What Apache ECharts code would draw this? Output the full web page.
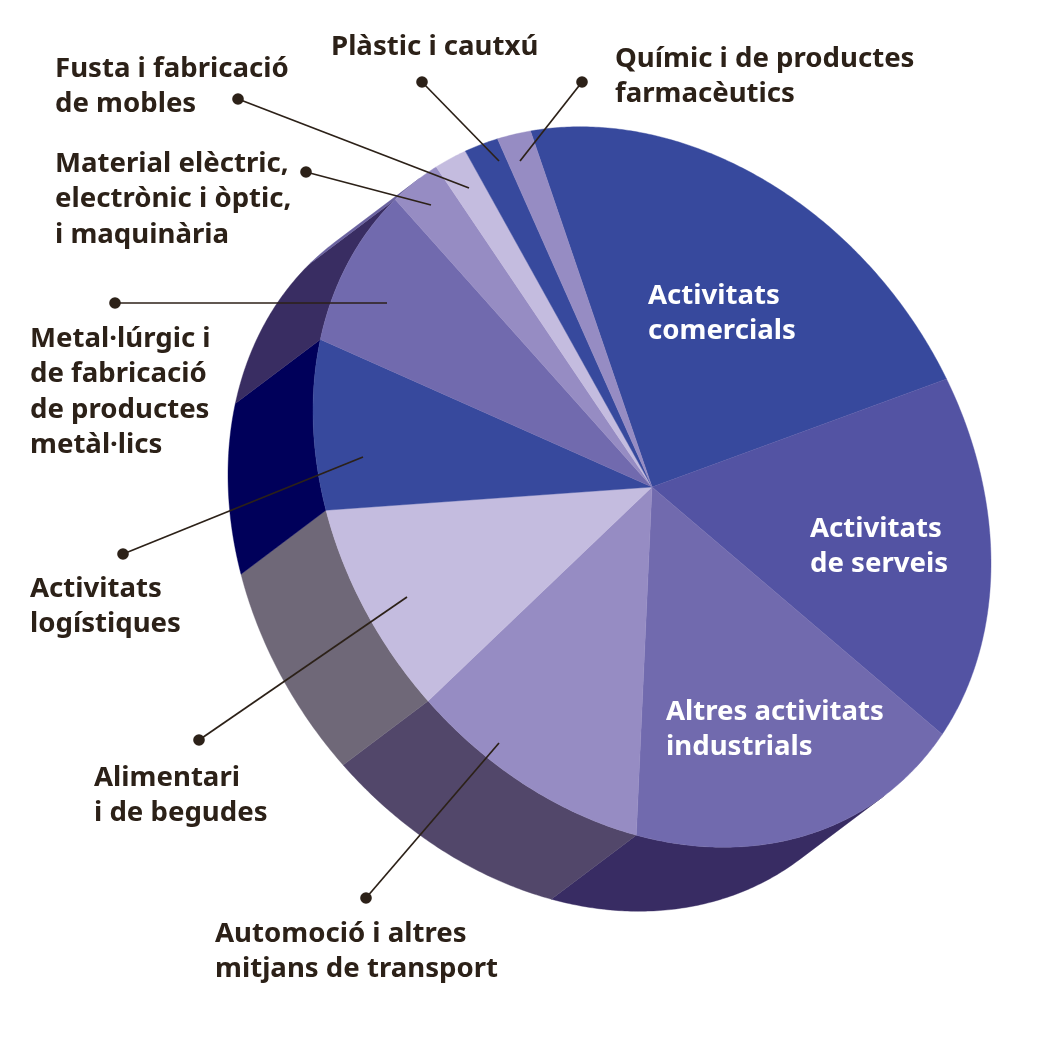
<!DOCTYPE html>
<html>
<head>
<meta charset="utf-8">
<style>
  html, body { margin: 0; padding: 0; background: #fff; }
  #chart { width: 1040px; height: 1040px; }
</style>
<script src="https://cdn.jsdelivr.net/npm/echarts@6/dist/echarts.min.js"></script>
</head>
<body>
<div id="chart"></div>
<script>
// clockwise, starting with the big top slice
const categories = ["Activitats comercials", "Activitats de serveis", "Altres activitats industrials",
  "Automoció i altres mitjans de transport", "Alimentari i de begudes", "Activitats logístiques",
  "Metal·lúrgic i de fabricació de productes metàl·lics", "Material elèctric, electrònic i òptic, i maquinària",
  "Fusta i fabricació de mobles", "Plàstic i cautxú", "Químic i de productes farmacèutics"];
const shares = [22.6, 16.9, 17.1, 10.75, 9.1, 7.75, 8.0, 2.7, 1.7, 1.75, 1.7];
const topColors = ["#37499d", "#5353a3", "#716aae", "#968cc3", "#c4bcdf", "#37499d", "#716aae", "#968cc3", "#c4bcdf", "#37499d", "#968cc3"];
const wallColors = ["#37499d", "#5353a3", "#382c63", "#52476a", "#6f6878", "#00005a", "#392d62", "#6a62a0", "#c4bcdf", "#37499d", "#968cc3"];

// tilted disc: circle angle -> screen position
const cx = 652, cy = 487;
const depthX = -85, depthY = 64;
const startDeg = 249;
const total = shares.reduce((a, b) => a + b, 0);

// the wall only shows between the two tangent points of the extrusion
const frontFrom = Math.atan2(352.1 * depthX, 76.25 * depthX - 339 * depthY) * 180 / Math.PI + 180;
const frontTo = frontFrom + 180;

function rim(deg, dx, dy) {
  const t = deg * Math.PI / 180;
  return [cx + 339 * Math.cos(t) + dx, cy + 76.25 * Math.cos(t) + 352.1 * Math.sin(t) + dy];
}

function sliceRange(i) {
  let before = 0;
  for (let k = 0; k < i; k++) before += shares[k];
  return [startDeg + before / total * 360, startDeg + (before + shares[i]) / total * 360];
}

function arcPoints(a, b, dx, dy) {
  const pts = [];
  const n = Math.max(4, Math.ceil((b - a) * 2));
  for (let k = 0; k <= n; k++) pts.push(rim(a + (b - a) * k / n, dx, dy));
  return pts;
}

function renderTop(params, api) {
  const i = api.value(0);
  const [a, b] = sliceRange(i);
  return {
    type: "polygon",
    shape: { points: [[cx, cy]].concat(arcPoints(a, b, 0, 0)) },
    style: { fill: topColors[i], stroke: topColors[i], lineWidth: 0.4 },
  };
}

function renderWall(params, api) {
  const i = api.value(0);
  let [a, b] = sliceRange(i);
  // angles past 360 belong to the same turn as the front range
  if (a >= 360) { a -= 360; b -= 360; }
  a = Math.max(a, frontFrom);
  b = Math.min(b, frontTo);
  if (b <= a) return null;
  const pts = arcPoints(a, b, 0, 0).concat(arcPoints(a, b, depthX, depthY).reverse());
  return {
    type: "polygon",
    shape: { points: pts },
    style: { fill: wallColors[i], stroke: wallColors[i], lineWidth: 0.4 },
  };
}

// dot -> end of leader line
const leaders = [
  [[238, 99], [469, 188]],
  [[306, 172], [431, 205]],
  [[422, 82], [499, 161]],
  [[582, 82], [520, 161]],
  [[115, 303], [387, 303]],
  [[123, 554], [363, 457]],
  [[199, 740], [407, 597]],
  [[366, 898], [499, 743]],
];

const darkLabels = [
  ["Fusta i fabricació\nde mobles", 55, 51],
  ["Material elèctric,\nelectrònic i òptic,\ni maquinària", 55, 146],
  ["Plàstic i cautxú", 331, 29],
  ["Químic i de productes\nfarmacèutics", 615, 41],
  ["Metal·lúrgic i\nde fabricació\nde productes\nmetàl·lics", 30, 321],
  ["Activitats\nlogístiques", 30, 571],
  ["Alimentari\ni de begudes", 94, 760],
  ["Automoció i altres\nmitjans de transport", 215, 916],
];
const lightLabels = [
  ["Activitats\ncomercials", 648, 278],
  ["Activitats\nde serveis", 810, 511],
  ["Altres activitats\nindustrials", 666, 694],
];

const graphics = [];
leaders.forEach((l) => {
  graphics.push({
    type: "line",
    shape: { x1: l[0][0], y1: l[0][1], x2: l[1][0], y2: l[1][1] },
    style: { stroke: "#2c2118", lineWidth: 1.7 },
    z: 10,
  });
  graphics.push({
    type: "circle",
    shape: { cx: l[0][0], cy: l[0][1], r: 5.8 },
    style: { fill: "#2c2118" },
    z: 10,
  });
});
function addLabels(list, color) {
  list.forEach((t) => {
    graphics.push({
      type: "text",
      x: t[1],
      y: t[2],
      z: 11,
      style: {
        text: t[0],
        fill: color,
        font: '700 27.6px "Noto Sans"',
        lineHeight: 35.5,
        textAlign: "left",
        textVerticalAlign: "top",
      },
    });
  });
}
addLabels(darkLabels, "#2c2118");
addLabels(lightLabels, "#ffffff");

const sliceData = shares.map((v, i) => ({ name: categories[i], value: [i, v] }));

const chart = echarts.init(document.getElementById("chart"), null, { renderer: "canvas" });
chart.setOption({
  animation: false,
  backgroundColor: "#ffffff",
  series: [
    { type: "custom", coordinateSystem: "none", renderItem: renderWall, data: sliceData, z: 1, silent: true },
    { type: "custom", coordinateSystem: "none", renderItem: renderTop, data: sliceData, z: 2, silent: true },
  ],
  graphic: graphics,
});
</script>
</body>
</html>
